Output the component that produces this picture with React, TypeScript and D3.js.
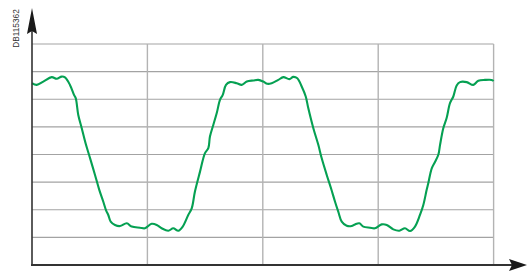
import React, { useEffect, useRef } from "react";
import * as d3 from "d3";

// time in ms (10 ms per grid column), amplitude in grid units
const timeMs = [
  0, 0.41, 0.98, 1.71, 2.14, 2.57, 2.86, 3.29, 3.64, 3.79, 4.01, 4.31, 4.68, 5.03, 5.46, 5.83, 6.18, 6.41,
  6.61, 6.82, 7.19, 7.63, 8.21, 8.64, 9.36, 9.79, 10.37, 10.81, 11.24, 11.81, 12.24, 12.68, 13.06, 13.54,
  13.84, 14.12, 14.56, 14.99, 15.28, 15.42, 15.71, 16.01, 16.29, 16.53, 16.81, 17.16, 17.74, 18.17, 18.61,
  19.18, 19.61, 20.04, 20.39, 20.77, 21.34, 21.78, 22.3, 22.64, 22.99, 23.37, 23.72, 23.94, 24.38, 24.81,
  25.1, 25.54, 25.91, 26.26, 26.54, 26.84, 27.27, 27.7, 27.99, 28.36, 28.71, 29.29, 29.72, 30.3, 30.74,
  31.31, 31.83, 32.32, 32.76, 33.19, 33.62, 33.91, 34.2, 34.34, 34.64, 34.92, 35.21, 35.36, 35.64, 35.93,
  36.22, 36.51, 36.8, 37.09, 37.67, 38.24, 38.68, 39.25, 39.83, 40.0,
];
const signal = [
  6.58, 6.52, 6.64, 6.8, 6.74, 6.82, 6.79, 6.52, 6.16, 6.04, 5.43, 4.95, 4.35, 3.87, 3.26, 2.72, 2.29, 1.99,
  1.81, 1.57, 1.45, 1.41, 1.51, 1.39, 1.35, 1.33, 1.49, 1.45, 1.33, 1.24, 1.33, 1.24, 1.39, 1.81,
  2.05, 2.66, 3.38, 4.05, 4.23, 4.65, 5.07, 5.5, 5.98, 6.16, 6.52, 6.62, 6.58, 6.52, 6.64,
  6.68, 6.7, 6.64, 6.56, 6.58, 6.7, 6.8, 6.73, 6.81, 6.76, 6.46, 6.1, 5.68, 4.95, 4.35,
  3.87, 3.26, 2.78, 2.29, 1.93, 1.57, 1.42, 1.41, 1.47, 1.51, 1.39, 1.35, 1.33, 1.47, 1.45,
  1.29, 1.24, 1.33, 1.23, 1.39, 1.81, 2.17, 2.72, 2.96, 3.5, 3.73, 3.99, 4.35, 4.95, 5.32,
  5.86, 6.1, 6.5, 6.62, 6.62, 6.52, 6.67, 6.7, 6.7, 6.66,
];
const xGrid = [10, 20, 30, 40];
const yGrid = [1, 2, 3, 4, 5, 6, 7, 8];
const label = "DB115362";

const App = () => {
  const ref = useRef<SVGSVGElement>(null);

  useEffect(() => {
    const width = 528;
    const height = 273;
    const svg = d3.select(ref.current).attr("width", width).attr("height", height);
    svg.selectAll("*").remove();

    const x = d3.scaleLinear().domain([0, 40]).range([32, 493.6]);
    const y = d3.scaleLinear().domain([0, 8]).range([265, 44]);

    // grid
    svg
      .append("g")
      .selectAll("line")
      .data(yGrid)
      .enter()
      .append("line")
      .attr("x1", x(0))
      .attr("x2", x(40))
      .attr("y1", (d) => y(d))
      .attr("y2", (d) => y(d))
      .attr("stroke", "#a3a3a3")
      .attr("stroke-width", 1.2);

    svg
      .append("g")
      .selectAll("line")
      .data(xGrid)
      .enter()
      .append("line")
      .attr("x1", (d) => x(d))
      .attr("x2", (d) => x(d))
      .attr("y1", y(0))
      .attr("y2", y(8))
      .attr("stroke", "#b3b3b3")
      .attr("stroke-width", 1.4);

    // signal
    const pts = timeMs.map((t, i) => [t, signal[i]] as [number, number]);
    const line = d3
      .line<[number, number]>()
      .x((d) => x(d[0]))
      .y((d) => y(d[1]))
      .curve(d3.curveCatmullRom.alpha(0.5));

    svg
      .append("path")
      .datum(pts)
      .attr("fill", "none")
      .attr("stroke", "#05a052")
      .attr("stroke-width", 2.1)
      .attr("stroke-linejoin", "round")
      .attr("d", line);

    // axes with arrows
    const ox = x(0);
    const oy = y(0);
    svg
      .append("line")
      .attr("x1", ox)
      .attr("x2", ox)
      .attr("y1", oy + 1)
      .attr("y2", 28)
      .attr("stroke", "#333")
      .attr("stroke-width", 1.6);
    svg
      .append("line")
      .attr("x1", ox - 1)
      .attr("x2", 514)
      .attr("y1", oy)
      .attr("y2", oy)
      .attr("stroke", "#333")
      .attr("stroke-width", 1.8);

    svg
      .append("path")
      .attr("d", `M${ox},8 L${ox + 5},34 L${ox},31 L${ox - 5},34 Z`)
      .attr("fill", "#1a1a1a");
    svg
      .append("path")
      .attr("d", `M527,${oy} L509,${oy - 6} L512,${oy} L509,${oy + 6} Z`)
      .attr("fill", "#1a1a1a");

    svg
      .append("text")
      .attr("transform", "translate(18.5,28.5) rotate(-90)")
      .attr("text-anchor", "middle")
      .attr("font-family", "Liberation Sans, Arial, sans-serif")
      .attr("font-size", 8.3)
      .attr("fill", "#333")
      .text(label);
  }, []);

  return (
    <svg
      ref={ref}
      style={{ position: "absolute", left: 0, top: 0, background: "#fff" }}
    ></svg>
  );
};

export default App;
